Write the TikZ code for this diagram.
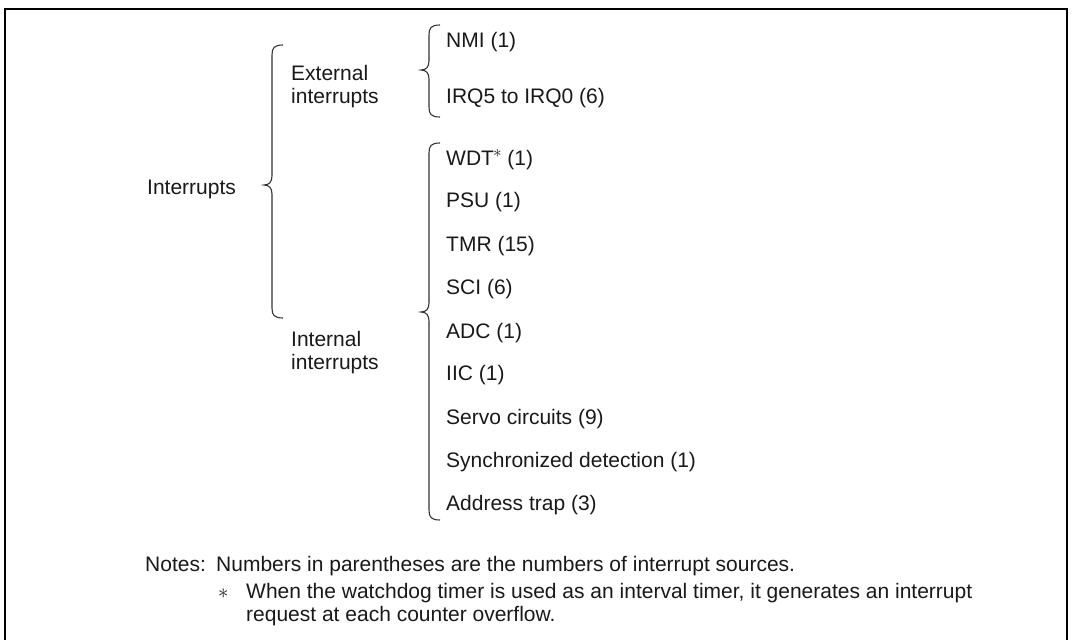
\documentclass[tikz,border=0pt]{standalone}
\usepackage{fontspec}
\setmainfont{Liberation Sans}
\newcommand{\curlyb}[4]{% x, top, tip, bottom
  \draw[brc] ({#1+11},#2) .. controls ({#1+2},#2) and (#1,{#2+3}) .. (#1,{#2+10})
    -- (#1,{#3-9}) .. controls (#1,{#3-3}) and ({#1-3},#3) .. ({#1-8},#3)
    .. controls ({#1-3},#3) and (#1,{#3+3}) .. (#1,{#3+9})
    -- (#1,{#4-10}) .. controls (#1,{#4-3}) and ({#1+2},#4) .. ({#1+11},#4);}
\newcommand{\upstar}{\raisebox{8pt}{\fontsize{19}{19}\selectfont$\ast$}}
\begin{document}
\begin{tikzpicture}[x=1pt,y=-1pt,
  lbl/.style={anchor=base west, inner sep=0pt, font=\fontsize{21}{25}\selectfont, text=black!90},
  brc/.style={line width=1.1pt, black!80}]
\useasboundingbox (0,0) rectangle (1074,640);
\draw[line width=2.5pt] (5,650) -- (5,9) -- (1067,9) -- (1067,650);

\node[lbl] (intr) at (147,194) {Interrupts};
\node[lbl] (ext1) at (291,80) {External};
\node[lbl] (ext2) at (291,103) {interrupts};
\node[lbl] (int1) at (291,346) {Internal};
\node[lbl] (int2) at (291,369) {interrupts};

\node[lbl] (nmi) at (446,47) {NMI (1)};
\node[lbl] (irq) at (446,103) {IRQ5 to IRQ0 (6)};

\node[lbl] (wdt) at (446,165) {WDT\kern-1pt\upstar\ (1)};
\node[lbl] (psu) at (446,207) {PSU (1)};
\node[lbl] (tmr) at (446,251) {TMR (15)};
\node[lbl] (sci) at (446,294) {SCI (6)};
\node[lbl] (adc) at (446,338) {ADC (1)};
\node[lbl] (iic) at (446,380) {IIC (1)};
\node[lbl] (servo) at (446,424) {Servo circuits (9)};
\node[lbl] (sync) at (446,467) {Synchronized detection (1)};
\node[lbl] (trap) at (446,510) {Address trap (3)};

\node[lbl] (notes) at (145,571) {Notes:};
\node[lbl] (n1) at (216,571) {Numbers in parentheses are the numbers of interrupt sources.};
\node[lbl] (star) at (218,598) {$\ast$};
\node[lbl] (n2) at (246,598) {When the watchdog timer is used as an interval timer, it generates an interrupt};
\node[lbl] (n3) at (246,621) {request at each counter overflow.};

\curlyb{272}{45}{185}{318}
\curlyb{429}{25}{70}{117}
\curlyb{429}{143}{312}{520}
\end{tikzpicture}
\end{document}
